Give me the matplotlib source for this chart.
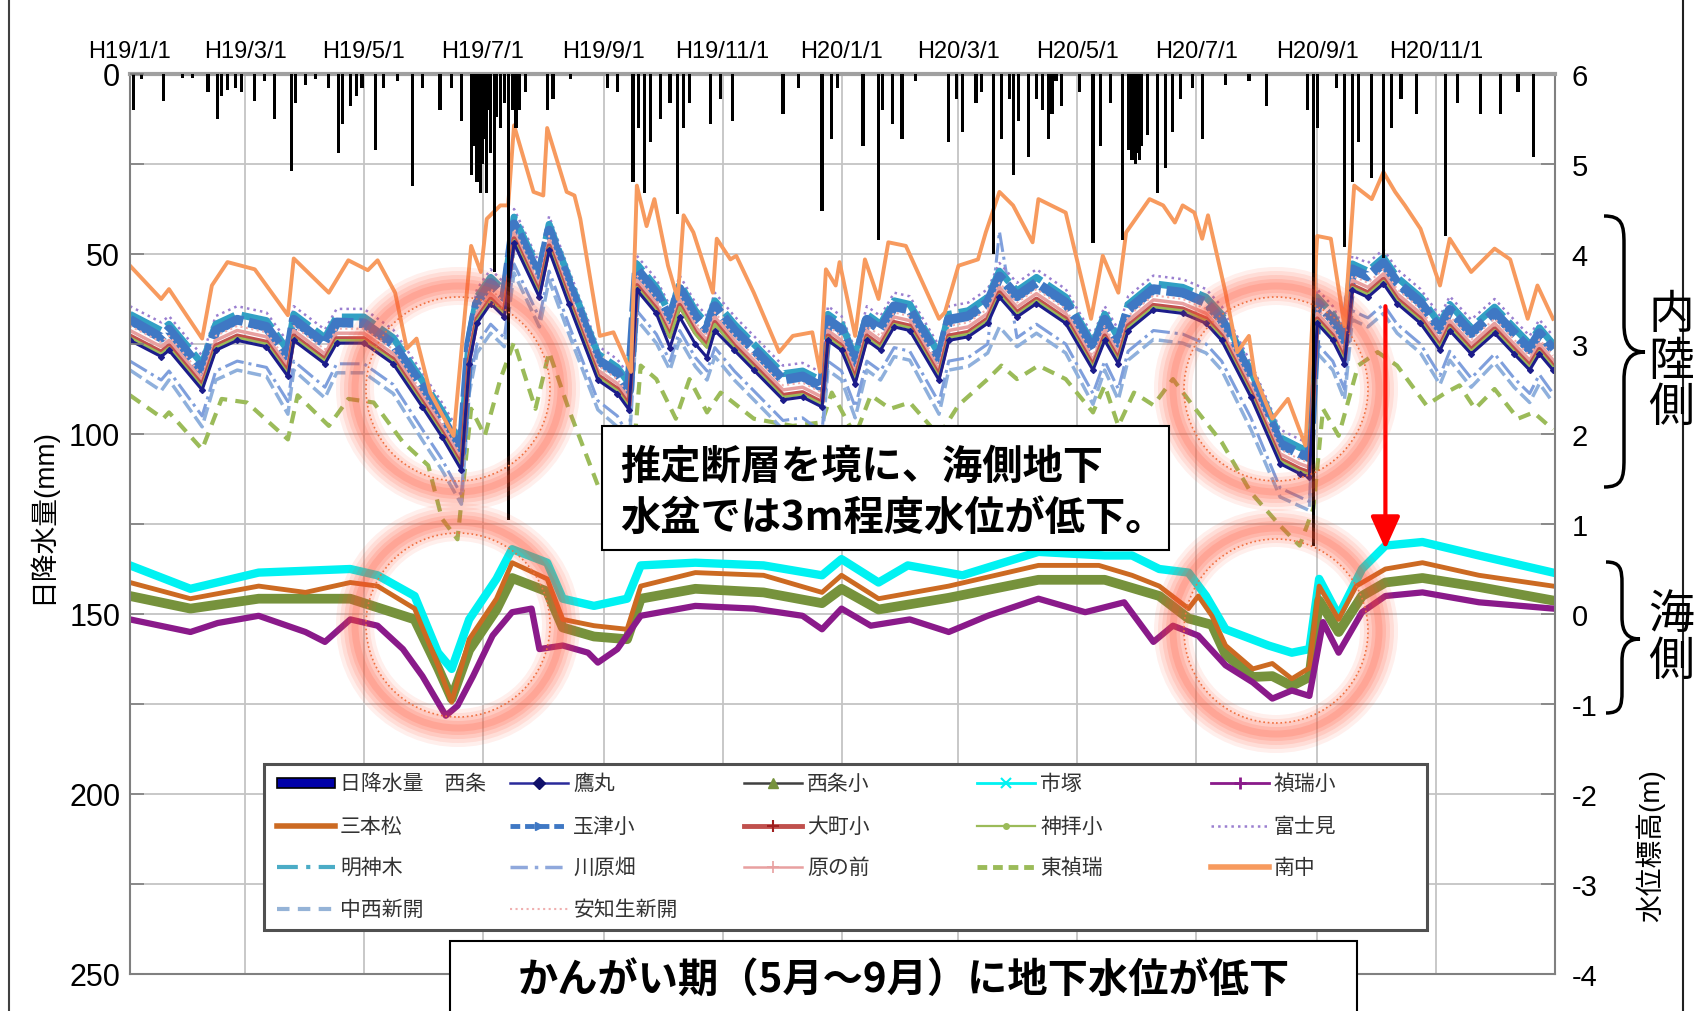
import matplotlib
matplotlib.use("Agg")
import matplotlib.pyplot as plt
from matplotlib.lines import Line2D
from matplotlib.patches import Rectangle, Circle, PathPatch
from matplotlib.path import Path
from matplotlib.transforms import IdentityTransform

plt.rcParams['font.family'] = ['Liberation Sans', 'Noto Sans CJK JP', 'DejaVu Sans']
plt.rcParams['axes.unicode_minus'] = False
JP = ['Noto Sans CJK JP', 'DejaVu Sans']

# ------------------------------------------------------------------ data
tick_days = [0, 59, 120, 181, 243, 304, 365, 425, 486, 547, 609, 670]
tick_labels = ["H19/1/1", "H19/3/1", "H19/5/1", "H19/7/1", "H19/9/1", "H19/11/1",
               "H20/1/1", "H20/3/1", "H20/5/1", "H20/7/1", "H20/9/1", "H20/11/1"]

# daily rainfall (day index from H19/1/1, mm)
rain_day = [2, 6, 17, 27, 32, 40, 45, 47, 50, 54, 57, 64, 69, 74, 83, 85, 90, 95, 102, 107,
            109, 113, 116, 119, 126, 130, 137, 145, 150, 159, 165, 170, 175, 177, 178, 179, 180, 181, 182, 183,
            184, 185, 187, 188, 190, 192, 194, 196, 198, 200, 203, 214, 217, 226, 245, 250, 258, 261, 264, 267,
            272, 277, 281, 284, 287, 298, 303, 309, 335, 343, 355, 360, 363, 376, 384, 386, 391, 396, 403, 420,
            424, 427, 434, 437, 443, 447, 451, 453, 456, 461, 465, 468, 471, 473, 475, 478, 487, 494, 498, 503,
            509, 512, 514, 515, 516, 517, 518, 519, 522, 527, 531, 535, 539, 545, 550, 562, 574, 583, 604, 607,
            609, 619, 623, 627, 630, 637, 643, 647, 652, 660, 675, 681, 693, 703, 712, 720]
rain_mm = [10, 1.5, 7.5, 1, 1, 5, 12.5, 6, 4.5, 4, 5, 7.5, 2, 12.5, 27, 8, 3, 1.5, 4, 22,
           14, 9, 6, 4, 21, 4, 2, 31, 4, 10, 4, 13, 28, 20, 30, 15, 33, 25, 18, 33,
           10, 22, 55, 12, 15, 8, 124, 10, 15, 10, 5, 10, 7, 1.5, 4, 5, 30, 15, 33, 19,
           12.5, 8, 39, 15, 8, 14, 7, 13, 11, 4, 38, 18, 4, 20, 46, 10, 14, 18, 2, 19,
           7, 16, 8, 5, 50, 18, 7, 28, 13, 23, 7, 10, 18, 11, 2, 9, 5, 47, 20, 8,
           46, 21, 24, 23, 25, 22, 24, 20, 17, 33, 26, 16, 7, 4, 18, 3, 2, 9, 10, 131,
           15, 4, 48, 30, 19, 29, 51, 15, 7, 11, 45, 8, 11, 11, 5, 23]

# inland wells, sampled on these days (m)
inland_days = [0, 16, 20, 37, 44, 55, 70, 81, 84, 100, 106, 120, 135, 150, 160, 170, 174, 178, 185, 192,
               197, 210, 215, 225, 240, 250, 256, 260, 270, 277, 282, 290, 296, 300, 310, 320, 335, 345, 355, 358,
               365, 372, 378, 385, 392, 400, 415, 420, 430, 440, 446, 455, 465, 480, 494, 500, 507, 512, 525, 540,
               552, 560, 575, 590, 600, 605, 609, 617, 623, 627, 635, 643, 650, 662, 672, 677, 688, 700, 710, 718,
               723, 730]
omachi = [3.09, 2.91, 2.98, 2.54, 2.98, 3.09, 3.02, 2.69, 3.09, 2.83, 3.06, 3.06, 2.83, 2.35, 2.02, 1.65, 2.83, 3.28, 3.50, 3.35,
          4.17, 3.57, 4.09, 3.50, 2.65, 2.50, 2.32, 3.65, 3.39, 3.09, 3.43, 3.13, 2.98, 3.24, 2.98, 2.76, 2.43, 2.46, 2.35, 3.09,
          2.98, 2.61, 3.09, 2.98, 3.24, 3.20, 2.65, 3.09, 3.13, 3.28, 3.57, 3.35, 3.50, 3.28, 2.76, 3.09, 2.83, 3.20, 3.43, 3.39,
          3.28, 3.09, 2.46, 1.72, 1.61, 1.57, 3.28, 3.09, 2.83, 3.65, 3.57, 3.72, 3.50, 3.28, 2.98, 3.20, 2.94, 3.17, 2.94, 2.76,
          2.94, 2.76]
tamatsu = [3.27, 3.07, 3.16, 2.70, 3.15, 3.27, 3.19, 2.86, 3.27, 3.00, 3.24, 3.23, 3.00, 2.52, 2.18, 1.80, 3.00, 3.45, 3.68, 3.52,
           4.33, 3.74, 4.26, 3.67, 2.82, 2.68, 2.48, 3.83, 3.56, 3.27, 3.61, 3.30, 3.16, 3.42, 3.15, 2.94, 2.60, 2.64, 2.52, 3.27,
           3.16, 2.78, 3.27, 3.16, 3.42, 3.38, 2.83, 3.27, 3.31, 3.46, 3.75, 3.53, 3.68, 3.46, 2.94, 3.27, 3.01, 3.38, 3.61, 3.57,
           3.46, 3.27, 2.64, 1.89, 1.78, 1.74, 3.46, 3.27, 3.01, 3.83, 3.75, 3.90, 3.68, 3.46, 3.16, 3.38, 3.12, 3.35, 3.12, 2.94,
           3.12, 2.94]
myojingi = [3.33, 3.15, 3.22, 2.78, 3.22, 3.33, 3.26, 2.93, 3.33, 3.07, 3.30, 3.30, 3.07, 2.59, 2.26, 1.89, 3.07, 3.52, 3.74, 3.59,
            4.41, 3.81, 4.33, 3.74, 2.89, 2.74, 2.56, 3.89, 3.63, 3.33, 3.67, 3.37, 3.22, 3.48, 3.22, 3.00, 2.67, 2.70, 2.59, 3.33,
            3.22, 2.85, 3.33, 3.22, 3.48, 3.44, 2.89, 3.33, 3.37, 3.52, 3.81, 3.59, 3.74, 3.52, 3.00, 3.33, 3.07, 3.44, 3.67, 3.63,
            3.52, 3.33, 2.70, 1.96, 1.85, 1.81, 3.52, 3.33, 3.07, 3.89, 3.81, 3.96, 3.74, 3.52, 3.22, 3.44, 3.18, 3.41, 3.18, 3.00,
            3.18, 3.00]
fujimi = [3.42, 3.24, 3.31, 2.87, 3.31, 3.42, 3.35, 3.02, 3.42, 3.16, 3.39, 3.39, 3.16, 2.68, 2.35, 1.98, 3.16, 3.61, 3.83, 3.68,
          4.50, 3.90, 4.42, 3.83, 2.98, 2.83, 2.65, 3.98, 3.72, 3.42, 3.76, 3.46, 3.31, 3.57, 3.31, 3.09, 2.76, 2.79, 2.68, 3.42,
          3.31, 2.94, 3.42, 3.31, 3.57, 3.53, 2.98, 3.42, 3.46, 3.61, 3.90, 3.68, 3.83, 3.61, 3.09, 3.42, 3.16, 3.53, 3.76, 3.72,
          3.61, 3.42, 2.79, 2.05, 1.94, 1.90, 3.61, 3.42, 3.16, 3.98, 3.90, 4.05, 3.83, 3.61, 3.31, 3.53, 3.27, 3.50, 3.27, 3.09,
          3.27, 3.09]
haranomae = [3.15, 2.97, 3.04, 2.60, 3.04, 3.15, 3.08, 2.75, 3.15, 2.89, 3.12, 3.12, 2.89, 2.41, 2.08, 1.71, 2.89, 3.34, 3.56, 3.41,
             4.23, 3.63, 4.15, 3.56, 2.71, 2.56, 2.38, 3.71, 3.45, 3.15, 3.49, 3.19, 3.04, 3.30, 3.04, 2.82, 2.49, 2.52, 2.41, 3.15,
             3.04, 2.67, 3.15, 3.04, 3.30, 3.26, 2.71, 3.15, 3.19, 3.34, 3.63, 3.41, 3.56, 3.34, 2.82, 3.15, 2.89, 3.26, 3.49, 3.45,
             3.34, 3.15, 2.52, 1.78, 1.67, 1.63, 3.34, 3.15, 2.89, 3.71, 3.63, 3.78, 3.56, 3.34, 3.04, 3.26, 3.00, 3.23, 3.00, 2.82,
             3.00, 2.82]
achiu = [3.20, 3.02, 3.09, 2.65, 3.09, 3.20, 3.13, 2.80, 3.20, 2.94, 3.17, 3.17, 2.94, 2.46, 2.13, 1.76, 2.94, 3.39, 3.61, 3.46,
         4.28, 3.68, 4.20, 3.61, 2.76, 2.61, 2.43, 3.76, 3.50, 3.20, 3.54, 3.24, 3.09, 3.35, 3.09, 2.87, 2.54, 2.57, 2.46, 3.20,
         3.09, 2.72, 3.20, 3.09, 3.35, 3.31, 2.76, 3.20, 3.24, 3.39, 3.68, 3.46, 3.61, 3.39, 2.87, 3.20, 2.94, 3.31, 3.54, 3.50,
         3.39, 3.20, 2.57, 1.83, 1.72, 1.68, 3.39, 3.20, 2.94, 3.76, 3.68, 3.83, 3.61, 3.39, 3.09, 3.31, 3.05, 3.28, 3.05, 2.87,
         3.05, 2.87]
takamaru = [3.04, 2.86, 2.93, 2.49, 2.93, 3.04, 2.97, 2.64, 3.04, 2.78, 3.01, 3.01, 2.78, 2.30, 1.97, 1.60, 2.78, 3.23, 3.45, 3.30,
            4.12, 3.52, 4.04, 3.45, 2.60, 2.45, 2.27, 3.60, 3.34, 2.96, 3.30, 3.00, 2.85, 3.15, 2.93, 2.71, 2.38, 2.41, 2.30, 3.04,
            2.93, 2.56, 3.04, 2.93, 3.19, 3.15, 2.60, 3.04, 3.08, 3.23, 3.52, 3.30, 3.45, 3.23, 2.71, 3.04, 2.78, 3.15, 3.38, 3.34,
            3.23, 3.04, 2.41, 1.67, 1.56, 1.52, 3.23, 3.04, 2.78, 3.60, 3.52, 3.67, 3.45, 3.23, 2.93, 3.15, 2.89, 3.12, 2.89, 2.71,
            2.89, 2.71]
kanbai = [3.07, 2.89, 2.96, 2.52, 2.96, 3.07, 3.00, 2.67, 3.07, 2.81, 3.04, 3.04, 2.81, 2.33, 2.00, 1.63, 2.81, 3.26, 3.48, 3.33,
          4.15, 3.55, 4.07, 3.48, 2.63, 2.48, 2.30, 3.63, 3.37, 3.07, 3.41, 3.11, 2.96, 3.22, 2.96, 2.74, 2.41, 2.44, 2.33, 3.07,
          2.96, 2.59, 3.07, 2.96, 3.22, 3.18, 2.63, 3.07, 3.11, 3.26, 3.55, 3.33, 3.48, 3.26, 2.74, 3.07, 2.81, 3.18, 3.41, 3.37,
          3.26, 3.07, 2.44, 1.70, 1.59, 1.55, 3.26, 3.07, 2.81, 3.63, 3.55, 3.70, 3.48, 3.26, 2.96, 3.18, 2.92, 3.15, 2.92, 2.74,
          2.92, 2.74]
kawarabata = [2.81, 2.60, 2.70, 2.20, 2.70, 2.81, 2.74, 2.36, 2.81, 2.52, 2.78, 2.78, 2.55, 2.05, 1.72, 1.32, 2.55, 3.00, 3.22, 3.07,
              3.89, 3.29, 3.81, 3.22, 2.37, 2.20, 1.97, 3.37, 3.11, 2.81, 3.15, 2.85, 2.70, 2.96, 2.70, 2.48, 2.15, 2.18, 2.02, 2.81,
              2.70, 2.30, 2.81, 2.70, 2.96, 2.92, 2.35, 2.81, 2.85, 3.00, 4.25, 3.07, 3.22, 3.00, 2.45, 2.81, 2.50, 2.92, 3.15, 3.11,
              3.00, 2.81, 2.18, 1.40, 1.30, 1.25, 3.00, 2.81, 2.50, 3.37, 3.29, 3.44, 3.22, 3.00, 2.65, 2.92, 2.62, 2.89, 2.62, 2.45,
              2.66, 2.45]
nakanishi = [2.71, 2.48, 2.60, 2.08, 2.60, 2.71, 2.64, 2.22, 2.71, 2.40, 2.68, 2.68, 2.45, 1.93, 1.60, 1.22, 2.45, 2.90, 3.12, 2.97,
             3.79, 3.19, 3.71, 3.12, 2.27, 2.08, 1.85, 3.27, 3.01, 2.71, 3.05, 2.75, 2.60, 2.86, 2.60, 2.38, 2.05, 2.08, 1.92, 2.71,
             2.60, 2.18, 2.71, 2.60, 2.86, 2.82, 2.22, 2.71, 2.75, 2.90, 3.19, 2.97, 3.12, 2.90, 2.33, 2.71, 2.38, 2.82, 3.05, 3.01,
             2.90, 2.71, 2.05, 1.30, 1.20, 1.15, 2.90, 2.71, 2.38, 3.27, 3.19, 3.34, 3.12, 2.90, 2.55, 2.82, 2.52, 2.79, 2.52, 2.35,
             2.56, 2.35]

higashi_days = [0, 17, 20, 37, 47, 60, 81, 86, 102, 112, 125, 140, 153, 160, 168, 175, 182, 190, 197, 208,
                215, 225, 240, 250, 257, 262, 270, 280, 287, 296, 303, 320, 340, 355, 360, 372, 380, 390, 400, 415,
                425, 440, 447, 455, 466, 480, 494, 500, 507, 515, 525, 535, 545, 560, 575, 590, 600, 607, 612, 620,
                630, 640, 650, 665, 675, 682, 690, 700, 712, 720, 730]
higashi = [2.43, 2.17, 2.24, 1.83, 2.39, 2.35, 1.94, 2.43, 2.09, 2.39, 2.35, 1.91, 1.65, 1.06, 0.83, 2.28, 1.98, 2.61, 3.02, 2.28,
           2.91, 2.28, 1.43, 1.57, 1.43, 2.76, 2.61, 2.17, 2.61, 2.24, 2.46, 2.17, 2.09, 2.13, 2.46, 1.98, 2.43, 2.28, 2.35, 1.98,
           2.32, 2.61, 2.76, 2.61, 2.76, 2.61, 2.24, 2.54, 2.09, 2.46, 2.32, 2.61, 2.32, 1.91, 1.35, 0.98, 0.76, 1.17, 2.28, 1.98,
           2.76, 2.91, 2.76, 2.32, 2.46, 2.54, 2.28, 2.50, 2.17, 2.24, 2.05]

minaminaka_days = [0, 16, 20, 37, 42, 50, 64, 81, 84, 102, 112, 122, 127, 136, 142, 147, 154, 166, 175, 180,
                   183, 190, 194, 197, 207, 212, 214, 224, 228, 231, 241, 248, 257, 260, 265, 269, 276, 281, 284, 289,
                   299, 301, 308, 311, 320, 333, 340, 350, 354, 357, 362, 364, 372, 377, 384, 389, 398, 415, 418, 425,
                   435, 439, 446, 453, 463, 466, 480, 493, 499, 507, 511, 523, 530, 536, 540, 546, 550, 553, 562, 568,
                   574, 577, 586, 594, 603, 609, 616, 623, 628, 637, 643, 649, 654, 662, 672, 677, 688, 700, 708, 717,
                   722, 730]
minaminaka = [3.87, 3.50, 3.61, 3.06, 3.65, 3.91, 3.83, 3.32, 3.95, 3.57, 3.93, 3.82, 3.93, 3.57, 2.95, 3.06, 2.46, 1.98, 4.09, 3.80,
              4.39, 4.54, 4.54, 5.43, 4.69, 4.65, 5.40, 4.69, 4.65, 4.39, 3.09, 3.13, 2.69, 4.76, 4.31, 4.61, 3.87, 3.50, 4.43, 4.24,
              3.57, 4.17, 3.94, 3.98, 3.57, 2.91, 3.09, 3.13, 2.69, 3.83, 3.65, 3.91, 3.09, 3.94, 3.50, 4.13, 4.09, 3.28, 3.35, 3.87,
              3.94, 4.24, 4.69, 4.54, 4.13, 4.61, 4.46, 3.28, 3.98, 3.57, 4.24, 4.61, 4.54, 4.35, 4.54, 4.46, 4.17, 4.43, 3.57, 2.91,
              3.09, 2.65, 2.17, 2.39, 1.87, 4.20, 4.17, 3.20, 4.76, 4.61, 4.91, 4.69, 4.54, 4.28, 3.65, 4.17, 3.80, 4.06, 3.94, 3.28,
              3.65, 3.28]

# sea-side wells (m)
ichizuka_days = [0, 31, 66, 113, 127, 146, 158, 165, 174, 188, 196, 214, 222, 238, 255, 262, 290, 325, 355, 365,
                 384, 399, 427, 466, 500, 514, 528, 543, 552, 562, 584, 596, 605, 610, 620, 632, 644, 663, 692, 730]
ichizuka = [0.54, 0.28, 0.46, 0.50, 0.43, 0.20, -0.43, -0.61, -0.06, 0.39, 0.72, 0.57, 0.17, 0.09, 0.17, 0.54, 0.57, 0.54, 0.43, 0.61,
            0.35, 0.54, 0.43, 0.69, 0.65, 0.65, 0.50, 0.46, 0.20, -0.17, -0.35, -0.43, -0.39, 0.39, -0.02, 0.50, 0.76, 0.80, 0.65, 0.46]
sanbonmatsu_days = [0, 31, 66, 90, 113, 127, 146, 158, 165, 174, 188, 196, 207, 214, 222, 238, 255, 262, 290, 325,
                    355, 365, 384, 420, 466, 497, 514, 528, 543, 548, 555, 562, 576, 586, 596, 605, 610, 620, 629, 644,
                    663, 692, 730]
sanbonmatsu = [0.35, 0.17, 0.31, 0.24, 0.35, 0.31, 0.06, -0.57, -0.98, -0.28, 0.17, 0.57, 0.46, 0.39, -0.06, -0.13, -0.17, 0.31, 0.46, 0.43,
               0.24, 0.43, 0.17, 0.31, 0.54, 0.54, 0.43, 0.31, 0.06, 0.20, -0.02, -0.35, -0.61, -0.55, -0.72, -0.60, 0.31, -0.06, 0.31, 0.50,
               0.57, 0.43, 0.31]
saijosho_days = [0, 31, 66, 113, 146, 158, 165, 174, 188, 196, 214, 222, 238, 255, 262, 290, 325, 355, 365, 384,
                 420, 466, 500, 528, 543, 555, 562, 576, 586, 596, 605, 610, 620, 632, 644, 663, 692, 730]
saijosho = [0.20, 0.06, 0.17, 0.17, -0.06, -0.60, -0.94, -0.40, 0.05, 0.40, 0.25, -0.15, -0.25, -0.28, 0.17, 0.28, 0.24, 0.12, 0.28, 0.05,
            0.18, 0.38, 0.38, 0.20, -0.05, -0.12, -0.45, -0.70, -0.69, -0.80, -0.70, 0.15, -0.20, 0.20, 0.35, 0.40, 0.30, 0.15]
teizuisho_days = [0, 31, 45, 66, 90, 100, 113, 127, 140, 150, 162, 168, 176, 186, 196, 206, 210, 222, 235, 240,
                  250, 262, 290, 320, 345, 355, 365, 380, 400, 420, 440, 466, 490, 510, 525, 535, 548, 562, 576, 586,
                  596, 605, 612, 620, 632, 644, 663, 692, 730]
teizuisho = [-0.06, -0.20, -0.10, -0.02, -0.20, -0.31, -0.06, -0.13, -0.39, -0.69, -1.13, -1.02, -0.69, -0.24, 0.02, 0.06, -0.39, -0.35, -0.43, -0.54,
             -0.39, -0.02, 0.09, 0.06, -0.02, -0.17, 0.06, -0.13, -0.06, -0.20, -0.02, 0.17, 0.02, 0.13, -0.31, -0.13, -0.24, -0.57, -0.76, -0.94,
             -0.85, -0.91, -0.09, -0.43, 0.02, 0.20, 0.24, 0.13, 0.06]

# ------------------------------------------------------------------ styles
styles = {
    '鷹丸': dict(color='#1c1c8a', lw=2.2, marker='D', ms=3),
    '西条小': dict(color='#76923c', lw=7, solid_joinstyle='round'),
    '市塚': dict(color='#00f2f2', lw=6, solid_joinstyle='round'),
    '禎瑞小': dict(color='#8a1a8a', lw=4.5, solid_joinstyle='round'),
    '三本松': dict(color='#cc6a22', lw=3.5),
    '玉津小': dict(color='#3f78c4', lw=7, ls=(0, (4, 0.6))),
    '大町小': dict(color='#c0504d', lw=3.5),
    '神拝小': dict(color='#9bbb59', lw=2),
    '富士見': dict(color='#9a7fd0', lw=1.8, ls=':'),
    '明神木': dict(color='#31a0c4', lw=5, ls=(0, (5, 1))),
    '川原畑': dict(color='#7f9fdc', lw=2.2, ls='-.'),
    '原の前': dict(color='#e8a0a0', lw=2.5),
    '東禎瑞': dict(color='#9bbb59', lw=3, ls=(0, (3, 2))),
    '南中': dict(color='#f79a5e', lw=2.8),
    '中西新開': dict(color='#8fb0dc', lw=2.5, ls=(0, (4, 1.5))),
    '安知生新開': dict(color='#f0b0b0', lw=1.5, ls=':'),
}
legend_styles = {
    '鷹丸': dict(color='#2a2a9a', lw=1.8, marker='D', ms=6, mfc='#10106a', mec='#10106a'),
    '西条小': dict(color='#404040', lw=1.8, marker='^', ms=7, mfc='#76923c', mec='#76923c'),
    '市塚': dict(color='#00f2f2', lw=2, marker='x', ms=7, mew=1.5),
    '禎瑞小': dict(color='#8a1a8a', lw=2, marker='+', ms=8, mew=2),
    '三本松': dict(color='#cc6a22', lw=4),
    '玉津小': dict(color='#3f78c4', lw=3.5, ls=(0, (2, 1)), marker='>', ms=6),
    '大町小': dict(color='#c0504d', lw=3.5, marker='+', ms=9, mew=1.5, mec='#a02020'),
    '神拝小': dict(color='#9bbb59', lw=1.6, marker='o', ms=4),
    '富士見': dict(color='#9a7fd0', lw=1.8, ls=':'),
    '明神木': dict(color='#4bacc6', lw=3, ls=(0, (5, 2, 1, 2))),
    '川原畑': dict(color='#8fa8dc', lw=2.5, ls=(0, (5, 2, 1, 2))),
    '原の前': dict(color='#e8a0a0', lw=1.8, marker='+', ms=8, mew=1.2),
    '東禎瑞': dict(color='#9bbb59', lw=3.5, ls=(0, (2, 1.2))),
    '南中': dict(color='#f79a5e', lw=4),
    '中西新開': dict(color='#95b3d7', lw=3, ls=(0, (3, 2))),
    '安知生新開': dict(color='#f0b0b0', lw=1.5, ls=':'),
}

series = [
    ('東禎瑞', higashi_days, higashi),
    ('中西新開', inland_days, nakanishi),
    ('川原畑', inland_days, kawarabata),
    ('富士見', inland_days, fujimi),
    ('明神木', inland_days, myojingi),
    ('玉津小', inland_days, tamatsu),
    ('安知生新開', inland_days, achiu),
    ('原の前', inland_days, haranomae),
    ('大町小', inland_days, omachi),
    ('神拝小', inland_days, kanbai),
    ('鷹丸', inland_days, takamaru),
    ('南中', minaminaka_days, minaminaka),
    ('市塚', ichizuka_days, ichizuka),
    ('西条小', saijosho_days, saijosho),
    ('三本松', sanbonmatsu_days, sanbonmatsu),
    ('禎瑞小', teizuisho_days, teizuisho),
]

# ------------------------------------------------------------------ figure
W, H = 1702, 1012
fig = plt.figure(figsize=(W / 100, H / 100), dpi=100)
fig.patch.set_facecolor('white')


def fx(x):
    return x / W


def fy(y):
    return 1 - y / H


AX_L, AX_R, AX_T, AX_B = 130, 1555, 75, 975
ax = fig.add_axes([fx(AX_L), fy(AX_B), (AX_R - AX_L) / W, (AX_B - AX_T) / H])
axr = ax.twinx()

for name, d, v in series:
    ax.plot(d, v, label=name, **styles[name])

ax.set_xlim(0, 731)
ax.set_ylim(-4, 6)
ax.set_xticks(tick_days)
ax.set_xticklabels(tick_labels)
ax.xaxis.tick_top()
ax.tick_params(axis='x', which='both', length=0, labelsize=17, pad=9,
               top=True, bottom=False, labeltop=True, labelbottom=False)
ax.set_yticks(range(-4, 7))
ax.yaxis.tick_right()
ax.tick_params(axis='y', direction='in', length=10, width=1.2, labelsize=21, pad=12,
               color='#7f7f7f')
ax.grid(True, color='#c4c4c4', lw=1.3)
ax.set_axisbelow(True)
for s in ax.spines.values():
    s.set_color('#808080')
    s.set_linewidth(1.5)
ax.spines['top'].set_color('#a0a0a0')
ax.spines['top'].set_linewidth(3)

axr.bar(rain_day, rain_mm, width=1.6, color='black', linewidth=0)
axr.set_ylim(250, 0)
axr.set_yticks(range(0, 251, 50))
axr.set_yticks(range(25, 250, 50), minor=True)
axr.yaxis.tick_left()
axr.tick_params(axis='y', which='both', direction='in', length=10, width=1.2,
                labelsize=22, pad=7, color='#7f7f7f')
for s in axr.spines.values():
    s.set_visible(False)

# axis titles
fig.text(fx(41), fy(516), '日降水量(mm)', rotation=90, ha='center', va='center', fontsize=20)
fig.text(fx(1650), fy(846), '水位標高(m)', rotation=90, ha='center', va='center', fontsize=20)

# arrow
ax.annotate('', xy=(644, 0.72), xytext=(644, 3.42),
            arrowprops=dict(arrowstyle='-|>,head_length=1.0,head_width=0.45', color='#ff0000',
                            lw=3, shrinkA=0, shrinkB=0, mutation_scale=20))

# glowing circles
for cx, cy in [(458, 390), (1276, 390), (458, 626), (1276, 632)]:
    for lwp, al in [(38, 0.09), (30, 0.11), (22, 0.13), (14, 0.15), (7, 0.17)]:
        fig.add_artist(Circle((cx, H - cy), 103, transform=IdentityTransform(), fill=False,
                              ec='#ff5030', lw=lwp * 0.72, alpha=al, zorder=5))
    fig.add_artist(Circle((cx, H - cy), 92, transform=IdentityTransform(), fill=False,
                          ec='#f07040', lw=1.2, ls=':', zorder=6))


# braces
def brace(xl, xs, xt, yt, ym, yb, r):
    pts = [(xl, yt), (xl + (xs - xl) * 0.9, yt), (xs, yt + r * 0.3), (xs, yt + r),
           (xs, ym - r),
           (xs, ym - r * 0.3), (xs + (xt - xs) * 0.3, ym), (xt, ym),
           (xs + (xt - xs) * 0.3, ym), (xs, ym + r * 0.3), (xs, ym + r),
           (xs, yb - r),
           (xs, yb - r * 0.3), (xl + (xs - xl) * 0.9, yb), (xl, yb)]
    codes = [Path.MOVETO, Path.CURVE4, Path.CURVE4, Path.CURVE4, Path.LINETO,
             Path.CURVE4, Path.CURVE4, Path.CURVE4, Path.CURVE4, Path.CURVE4, Path.CURVE4,
             Path.LINETO, Path.CURVE4, Path.CURVE4, Path.CURVE4]
    verts = [(fx(x), fy(y)) for x, y in pts]
    fig.add_artist(PathPatch(Path(verts, codes), transform=fig.transFigure, fill=False,
                             lw=2.5, ec='black', zorder=8))


brace(1604, 1624, 1645, 217, 353, 488, 28)
brace(1606, 1622, 1640, 563, 640, 714, 22)

for ch, yy in [('内', 315), ('陸', 362), ('側', 408)]:
    fig.text(fx(1671), fy(yy), ch, ha='center', va='center', fontsize=33, family=JP, zorder=9)
for ch, yy in [('海', 615), ('側', 662)]:
    fig.text(fx(1671), fy(yy), ch, ha='center', va='center', fontsize=33, family=JP, zorder=9)

# figure frame
fig.add_artist(Line2D([fx(9), fx(9)], [0, 1], transform=fig.transFigure, color='#404040', lw=1.5))
fig.add_artist(Line2D([fx(1683), fx(1683)], [0, 1], transform=fig.transFigure, color='#202020', lw=1.5))

# annotation boxes
fig.add_artist(Rectangle((fx(602), fy(551)), 567 / W, 124 / H, transform=fig.transFigure,
                         fc='white', ec='black', lw=1.5, zorder=20))
fig.text(fx(620), fy(467), '推定断層を境に、海側地下', ha='left', va='center', fontsize=29,
         weight='bold', family=JP, zorder=21)
fig.text(fx(620), fy(518), '水盆では3m程度水位が低下。', ha='left', va='center', fontsize=29,
         weight='bold', family=JP, zorder=21)

fig.add_artist(Rectangle((fx(450), fy(1020)), 907 / W, 78 / H, transform=fig.transFigure,
                         fc='white', ec='black', lw=1.5, zorder=20))
fig.text(fx(904), fy(980), 'かんがい期（5月〜9月）に地下水位が低下', ha='center', va='center',
         fontsize=29, weight='bold', family=JP, zorder=21)

# legend (row-major, drawn manually to match layout)
legend_order = ['日降水量　西条', '鷹丸', '西条小', '市塚', '禎瑞小',
                '三本松', '玉津小', '大町小', '神拝小', '富士見',
                '明神木', '川原畑', '原の前', '東禎瑞', '南中',
                '中西新開', '安知生新開']
fig.add_artist(Rectangle((fx(264), fy(931)), 1163 / W, 166 / H, transform=fig.transFigure,
                         fc='white', ec='#505050', lw=2.2, zorder=20))
row_y = [784, 827, 868, 910]
for i, lab in enumerate(legend_order):
    r, c = divmod(i, 5)
    x0 = 277 + 233.4 * c
    y = row_y[r]
    if i == 0:
        fig.add_artist(Rectangle((fx(x0), fy(y + 5)), 58 / W, 10 / H, transform=fig.transFigure,
                                 fc='#0000a8', ec='black', lw=1.2, zorder=21))
    else:
        ln = Line2D([fx(x0), fx(x0 + 29), fx(x0 + 58)], [fy(y)] * 3, transform=fig.transFigure,
                    markevery=[1], zorder=21, **legend_styles[lab])
        fig.add_artist(ln)
    fig.text(fx(x0 + 63), fy(y), lab, ha='left', va='center', fontsize=15, color='#333333',
             family=JP, zorder=22)

fig.savefig('out.png', dpi=100, facecolor='white')
